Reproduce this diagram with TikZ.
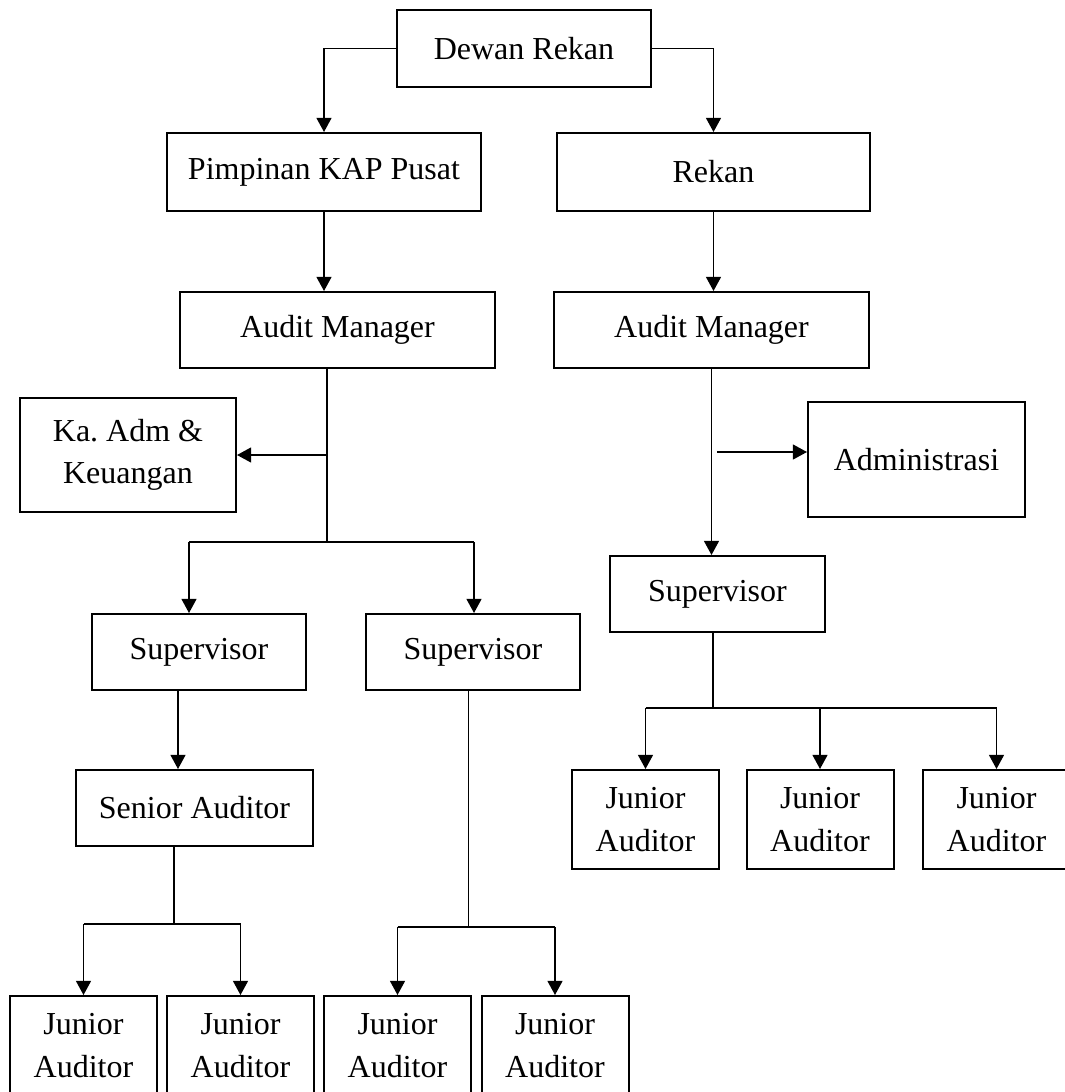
\documentclass[tikz,border=0pt]{standalone}
\usepackage{fontspec}
\setmainfont{Liberation Serif}
\usetikzlibrary{arrows.meta}

\begin{document}
\begin{tikzpicture}[x=0.375pt, y=-0.375pt,
    box/.style={draw, line width=0.75pt, inner sep=0pt, align=center,
        font={\fontsize{12}{16}\selectfont}},
    link/.style={line width=0.6pt},
    arr/.style={link, -{Triangle[length=5.3pt, width=5.6pt]}}]

\useasboundingbox (0,0) rectangle (1065,1092);
\clip (0,0) rectangle (1065,1092);

% Top
\node[box, minimum width=254*0.375pt, minimum height=77*0.375pt] (dewan) at (524,48.5) {Dewan Rekan};
\node[box, minimum width=314*0.375pt, minimum height=78*0.375pt] (pimpinan) at (324,172) {Pimpinan KAP Pusat};
\node[box, minimum width=313*0.375pt, minimum height=78*0.375pt] (rekan) at (713.5,172) {Rekan};

% Audit Managers
\node[box, minimum width=315*0.375pt, minimum height=76*0.375pt] (amL) at (337.5,330) {Audit Manager};
\node[box, minimum width=315*0.375pt, minimum height=76*0.375pt] (amR) at (711.5,330) {Audit Manager};

% Staff
\node[box, minimum width=216*0.375pt, minimum height=114*0.375pt] (ka) at (128,455) {Ka.\ Adm \&\\Keuangan};
\node[box, minimum width=217*0.375pt, minimum height=115*0.375pt] (adm) at (916.5,459.5) {Administrasi};

% Supervisors
\node[box, minimum width=214*0.375pt, minimum height=76*0.375pt] (supA) at (199,652) {Supervisor};
\node[box, minimum width=214*0.375pt, minimum height=76*0.375pt] (supB) at (473,652) {Supervisor};
\node[box, minimum width=215*0.375pt, minimum height=76*0.375pt] (supR) at (717.5,594) {Supervisor};

% Senior
\node[box, minimum width=237*0.375pt, minimum height=76*0.375pt] (senior) at (194.5,808) {Senior Auditor};

% Juniors (right)
\foreach \n/\x in {1/645.5, 2/820, 3/996.5} {
    \node[box, minimum width=147*0.375pt, minimum height=99*0.375pt] (jr\n) at (\x,819.5) {Junior\\Auditor};
}

% Juniors (bottom)
\foreach \n/\x in {1/83.5, 2/240.5, 3/397.5, 4/555} {
    \node[box, minimum width=147*0.375pt, minimum height=99*0.375pt] (jb\n) at (\x,1045.5) {Junior\\Auditor};
}

% Lines from the top
\draw[arr] (dewan.west) -| (pimpinan.north);
\draw[arr] (dewan.east) -| (rekan.north);
\draw[arr] (pimpinan.south) -- (pimpinan.south |- amL.north);
\draw[arr] (rekan.south) -- (rekan.south |- amR.north);

% Left branch
\coordinate (busL) at (327,542);
\coordinate (busLa) at (189,542);
\coordinate (busLb) at (474,542);
\draw[link] (amL.south -| busL) -- (busL);
\draw[arr] (busL |- ka.east) -- (ka.east);
\draw[link] (busLa) -- (busLb);
\draw[arr] (busLa) -- (busLa |- supA.north);
\draw[arr] (busLb) -- (busLb |- supB.north);

\coordinate (supSen) at (178,690);
\draw[arr] (supSen) -- (supSen |- senior.north);

\coordinate (busS) at (174,924);
\draw[link] (senior.south -| busS) -- (busS);
\draw[link] (jb1.north |- busS) -- (jb2.north |- busS);
\foreach \n in {1, 2} {
    \draw[arr] (jb\n.north |- busS) -- (jb\n.north);
}

\coordinate (busT) at (468.5,927);
\draw[link] (supB.south -| busT) -- (busT);
\draw[link] (jb3.north |- busT) -- (jb4.north |- busT);
\foreach \n in {3, 4} {
    \draw[arr] (jb\n.north |- busT) -- (jb\n.north);
}

% Right branch
\coordinate (admFrom) at (717,452);
\draw[arr] (amR.south) -- (amR.south |- supR.north);
\draw[arr] (admFrom) -- (admFrom -| adm.west);

\coordinate (busR) at (713,708);
\draw[link] (supR.south -| busR) -- (busR);
\draw[link] (jr1.north |- busR) -- (jr3.north |- busR);
\foreach \n in {1, 2, 3} {
    \draw[arr] (jr\n.north |- busR) -- (jr\n.north);
}

\end{tikzpicture}
\end{document}
